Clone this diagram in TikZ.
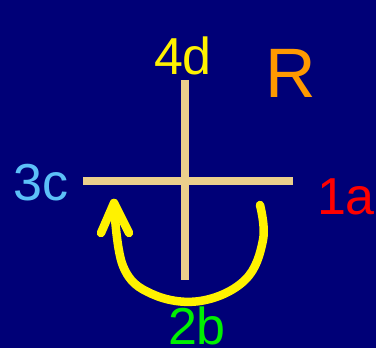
\documentclass[tikz,border=0pt]{standalone}
\usepackage{fontspec}
\setmainfont{Liberation Sans}
\definecolor{bgnavy}{RGB}{0,0,119}
\definecolor{tan}{RGB}{235,207,140}
\definecolor{orangeR}{RGB}{255,153,0}
\definecolor{lblue}{RGB}{92,192,248}
\definecolor{bgreen}{RGB}{0,240,0}
\begin{document}
\begin{tikzpicture}[x=1pt,y=1pt,
  crossline/.style={draw=tan,line width=8pt},
  rotarrow/.style={draw=yellow,line width=8.5pt,line cap=round,line join=round},
  lbl/.style={anchor=base,inner sep=0pt,font=\fontsize{52}{60}\selectfont}]
\fill[bgnavy] (0,0) rectangle (376,348);
\useasboundingbox (0,0) rectangle (376,348);
\coordinate (L) at (83,167);
\coordinate (Rt) at (293,167);
\coordinate (T) at (184.5,268);
\coordinate (B) at (184.5,68);
\draw[crossline] (L) -- (Rt);
\draw[crossline] (T) -- (B);
\node[lbl,text=yellow] (d4) at (183,273) {4d};
\node[lbl,text=lblue] (c3) at (41,147) {3c};
\node[lbl,text=red] (a1) at (346,133) {1a};
\node[lbl,text=bgreen] (b2) at (197,3) {2b};
\node[anchor=base,inner sep=0pt,font=\fontsize{70}{80}\selectfont,text=orangeR] (rr) at (291,250) {R};
\coordinate (s) at (260,143);
\coordinate (tip) at (114,145);
\coordinate (armL) at (101,115);
\coordinate (armR) at (129,115);
\draw[rotarrow] plot[smooth,tension=0.65] coordinates {(s) (263,108) (245,68) (200,47) (152,54) (123,82) (tip)};
\draw[rotarrow] (armL) -- (tip) -- (armR);
\end{tikzpicture}
\end{document}
